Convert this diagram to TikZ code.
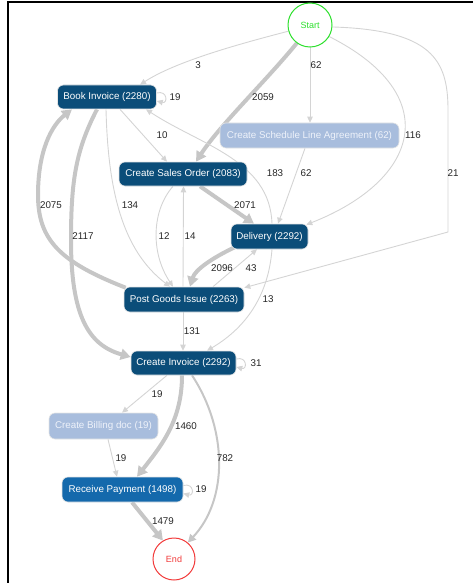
\documentclass[tikz,border=0pt]{standalone}
\usepackage{fontspec}
\setmainfont{Liberation Sans}
\usetikzlibrary{arrows.meta,calc}
\pgfdeclarelayer{edges}
\pgfsetlayers{edges,main}
\definecolor{nodedark}{HTML}{0B4D79}
\definecolor{nodemid}{HTML}{1469AC}
\definecolor{nodelight}{HTML}{A8BDDD}
\definecolor{lighttext}{HTML}{EEF2FA}
\definecolor{edgethin}{HTML}{D4D4D4}
\definecolor{edgethick}{HTML}{C6C6C6}
\definecolor{startgreen}{HTML}{2EE02E}
\definecolor{endred}{HTML}{F23A3A}
\begin{document}
\begin{tikzpicture}[x=1pt,y=-1pt,
  act/.style={rounded corners=6pt, draw=white!80!gray, line width=0.6pt, inner sep=0pt,
    font=\fontsize{9.8}{11}\selectfont, text=white},
  dark/.style={act, fill=nodedark},
  mid/.style={act, fill=nodemid},
  light/.style={act, fill=nodelight, text=lighttext},
  terminal/.style={circle, inner sep=0pt, line width=1pt, fill=white,
    font=\fontsize{9}{10}\selectfont},
  thinflow/.style={draw=edgethin, line width=0.9pt, -{Triangle[length=6pt,width=5.5pt]}},
  midflow/.style={draw=edgethick, line width=2pt, -{Triangle[length=8pt,width=8pt]}},
  thickflow/.style={draw=edgethick, line width=4pt, -{Triangle[length=10pt,width=11pt]}},
  cnt/.style={font=\fontsize{9.8}{11}\selectfont, inner sep=0pt, text=black!85}
]
\useasboundingbox (0,0) rectangle (473,583);
% frame
\draw[line width=2pt] (8,583) -- (8,2) -- (473,2);

% activities
\node[terminal, draw=startgreen, text=startgreen, minimum size=44pt] (start) at (310,25) {Start};
\node[dark, minimum width=99pt, minimum height=24pt] (bi) at (107,97) {Book Invoice (2280)};
\node[light, minimum width=179pt, minimum height=25pt] (csla) at (309.5,135.5) {Create Schedule Line Agreement (62)};
\node[dark, minimum width=128pt, minimum height=24pt] (cso) at (183,174) {Create Sales Order (2083)};
\node[dark, minimum width=77pt, minimum height=25pt] (del) at (269.5,236.5) {Delivery (2292)};
\node[dark, minimum width=120pt, minimum height=25pt] (pgi) at (184,299.5) {Post Goods Issue (2263)};
\node[dark, minimum width=105pt, minimum height=24pt] (ci) at (183.5,363) {Create Invoice (2292)};
\node[light, minimum width=109pt, minimum height=26pt] (cbd) at (103.5,426) {Create Billing doc (19)};
\node[mid, minimum width=121pt, minimum height=25pt] (rp) at (122.5,489.5) {Receive Payment (1498)};
\node[terminal, draw=endred, text=endred, minimum size=42pt] (end) at (174,559) {End};

% flows
\begin{pgfonlayer}{edges}
% from Start
\draw[thinflow] (start.196) .. controls (235,45) and (175,62) .. ([xshift=33pt]bi.north);
\draw[thickflow] (start.234) .. controls (265,82) and (220,125) .. ([xshift=13pt]cso.north);
\draw[thinflow] (start.south) -- (start.south |- csla.north);
\draw[thinflow] (start.-31) .. controls (445,95) and (420,180) .. ([xshift=-2pt,yshift=-1pt]del.north east);
\draw[thinflow] (start.-5) .. controls (432,30) and (448,60) .. (448,110)
   -- (448,232) -- ([yshift=-1pt]pgi.north east);
% from Book Invoice
\draw[thinflow] ([yshift=4pt]bi.east) .. controls +(11,-3) and +(11,3) .. ([yshift=-4pt]bi.east);
\draw[thinflow] ([xshift=13pt]bi.south) -- ([xshift=-16pt]cso.north);
\draw[thinflow] ([xshift=-1pt]bi.south) .. controls (108,190) and (122,250) .. ([xshift=-14pt]pgi.north);
\draw[thickflow] ([xshift=-10pt]bi.south) .. controls (76,150) and (71,180) .. (71,240)
   .. controls (71,315) and (88,345) .. ([yshift=6pt]ci.west);
% from Create Schedule Line Agreement
\draw[thinflow] ([xshift=-4.5pt]csla.south) -- ([xshift=8.5pt]del.north);
% from Create Sales Order
\draw[thickflow] ([xshift=17pt]cso.south) -- ([xshift=-15.5pt]del.north);
\draw[thinflow] ([xshift=-10pt]cso.south) .. controls (152,210) and (150,252) .. ([xshift=-11pt]pgi.north);
% from Delivery
\draw[thinflow] ([xshift=2.5pt]del.north) .. controls (270,160) and (200,145) .. ([xshift=39pt]bi.south);
\draw[thickflow] ([xshift=4pt,yshift=2pt]del.south west) .. controls (212,258) and (195,270) .. ([xshift=6pt]pgi.north);
\draw[thinflow] ([xshift=2.5pt]del.south) .. controls (268,300) and (242,330) .. ([xshift=23.5pt]ci.north);
% from Post Goods Issue
\draw[thickflow] ([xshift=2pt,yshift=-1pt]pgi.north west) .. controls (60,262) and (38,240) .. (38,195)
   .. controls (38,150) and (52,125) .. ([xshift=-35pt]bi.south);
\draw[thinflow] ([xshift=-1pt]pgi.north) -- ([xshift=-0.5pt]pgi.north |- cso.south);
\draw[thinflow] ([xshift=29pt]pgi.north) -- ([xshift=-12.5pt]del.south);
\draw[thinflow] ([xshift=-1pt]pgi.south) -- ([xshift=-1pt]pgi.south |- ci.north);
% from Create Invoice
\draw[thinflow] ([yshift=4pt]ci.east) .. controls +(11,-3) and +(11,3) .. ([yshift=-4pt]ci.east);
\draw[thinflow] ([xshift=-16.5pt]ci.south) -- ([xshift=18.5pt]cbd.north);
\draw[thickflow] ([xshift=-1.5pt]ci.south) .. controls (182,420) and (162,445) .. ([xshift=14.5pt]rp.north);
\draw[midflow] ([xshift=8.5pt]ci.south) .. controls (228,430) and (228,500) .. (end.50);
% from Create Billing doc
\draw[thinflow] ([xshift=4.5pt]cbd.south) -- ([xshift=-5.5pt]rp.north);
% from Receive Payment
\draw[thinflow] ([yshift=4pt]rp.east) .. controls +(11,-3) and +(11,3) .. ([yshift=-4pt]rp.east);
\draw[thickflow] ([xshift=9.5pt]rp.south) -- (end.121);
\end{pgfonlayer}

% counts
\node[cnt] (n1) at (198,65) {3};
\node[cnt] (n2) at (316,65) {62};
\node[cnt] (n3) at (263,97) {2059};
\node[cnt] (n4) at (175,97) {19};
\node[cnt] (n5) at (162,135) {10};
\node[cnt] (n6) at (413,135) {116};
\node[cnt] (n7) at (275,173) {183};
\node[cnt] (n8) at (306,173) {62};
\node[cnt] (n9) at (453,173) {21};
\node[cnt] (n10) at (51,205) {2075};
\node[cnt] (n11) at (130,205) {134};
\node[cnt] (n12) at (245,205) {2071};
\node[cnt] (n13) at (83,236) {2117};
\node[cnt] (n14) at (164,236) {12};
\node[cnt] (n15) at (190,236) {14};
\node[cnt] (n16) at (222,268) {2096};
\node[cnt] (n17) at (251,268) {43};
\node[cnt] (n18) at (268,299) {13};
\node[cnt] (n19) at (192,331) {131};
\node[cnt] (n20) at (256,363) {31};
\node[cnt] (n21) at (157,394) {19};
\node[cnt] (n22) at (186,426) {1460};
\node[cnt] (n23) at (121,458) {19};
\node[cnt] (n24) at (225,458) {782};
\node[cnt] (n25) at (201,489) {19};
\node[cnt] (n26) at (163,521) {1479};
\end{tikzpicture}
\end{document}
